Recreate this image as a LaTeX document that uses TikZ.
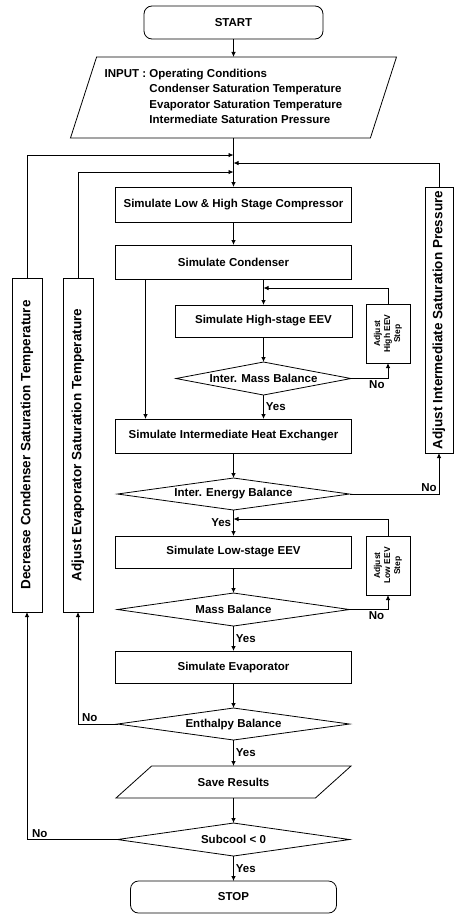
\documentclass[tikz,border=0pt]{standalone}
\usepackage{fontspec}
\setmainfont{Liberation Sans}
\usetikzlibrary{positioning, arrows.meta, shapes.geometric}
\tikzset{
  procbox/.style={
    draw, line width=0.8pt, outer sep=0pt,
    minimum width=236pt, minimum height=33pt,
    inner sep=2pt, align=center,
    font=\bfseries\fontsize{11.5}{13}\selectfont
  },
  termbox/.style={procbox, rounded corners=8pt},
  decision/.style={
    draw, line width=0.8pt, outer sep=0pt, diamond, aspect=6, inner sep=0pt,
    minimum width=232pt, minimum height=32pt,
    font=\bfseries\fontsize{11.5}{13}\selectfont
  },
  iobox/.style={
    draw, line width=0.8pt, outer sep=0pt, trapezium, trapezium stretches body,
    font=\bfseries\fontsize{11.5}{15.5}\selectfont
  },
  sidebox/.style={
    draw, line width=0.8pt, outer sep=0pt, rotate=90, inner sep=1pt,
    minimum height=30pt,
    font=\bfseries\fontsize{13.5}{15}\selectfont
  },
  stepbox/.style={
    draw, line width=0.8pt, outer sep=0pt, rotate=90, inner sep=1pt,
    minimum width=59pt, minimum height=44pt, align=center,
    font=\bfseries\fontsize{8.5}{10}\selectfont
  },
  flow/.style={-{Latex[length=5pt,width=4.5pt]}, line width=0.8pt},
  tag/.style={font=\bfseries\fontsize{11.5}{13}\selectfont, inner sep=2pt}
}

\begin{document}
\begin{tikzpicture}[x=1pt, y=1pt, node distance=25pt]
  \useasboundingbox (0,0) rectangle (455,-915);

  % main column
  \node[termbox, minimum width=179pt] (start) at (233.5,-22.5) {START};
  \node[iobox, trapezium left angle=69, trapezium right angle=111,
        minimum width=326pt, minimum height=81pt, inner sep=3pt,
        below=18pt of start] (inp)
    {\begin{tabular}{@{}l@{ }l@{}}
      INPUT : & Operating Conditions\\
              & Condenser Saturation Temperature\\
              & Evaporator Saturation Temperature\\
              & Intermediate Saturation Pressure
     \end{tabular}\hspace*{20pt}};
  \node[procbox, minimum height=35pt, below=49pt of inp] (comp) {Simulate Low \& High Stage Compressor};
  \node[procbox, minimum height=34pt, below=23pt of comp] (cond) {Simulate Condenser};
  \node[procbox, minimum width=177pt, minimum height=32pt, below=26pt of cond, xshift=30pt] (heev) {Simulate High-stage EEV};
  \node[decision, minimum width=175pt, minimum height=33pt, below=25pt of heev] (imb) {Inter. Mass Balance};
  \node[procbox, minimum height=34pt, below=24pt of imb, xshift=-30pt] (ihx) {Simulate Intermediate Heat Exchanger};
  \node[decision, below=25pt of ihx] (eb) {Inter. Energy Balance};
  \node[procbox, minimum height=32pt, below=26pt of eb] (leev) {Simulate Low-stage EEV};
  \node[decision, minimum height=33pt, below=of leev] (mb) {Mass Balance};
  \node[procbox, minimum height=32pt, below=of mb] (evap) {Simulate Evaporator};
  \node[decision, below=of evap] (enth) {Enthalpy Balance};
  \node[iobox, trapezium left angle=23, trapezium right angle=157,
        minimum width=235pt, minimum height=32pt, below=26pt of enth] (save) {Save Results};
  \node[decision, minimum height=33pt, below=of save] (sub) {Subcool < 0};
  \node[termbox, minimum width=206pt, minimum height=32pt, below=of sub] (stop) {STOP};

  % side boxes
  \node[sidebox, minimum width=334pt] (dcst) at (27,-445) {Decrease Condenser Saturation Temperature};
  \node[sidebox, minimum width=334pt] (aest) at (78,-445) {Adjust Evaporator Saturation Temperature};
  \node[sidebox, minimum width=266pt, minimum height=28pt] (aisp) at (439,-320) {Adjust Intermediate Saturation Pressure};
  \node[stepbox] (ahev) at (388,-333.5) {Adjust\\High EEV\\Step};
  \node[stepbox] (alev) at (388,-565.5) {Adjust\\Low EEV\\Step};

  % junctions
  \coordinate (j1) at ([yshift=32pt]comp.north);
  \coordinate (j2) at ([yshift=24pt]comp.north);
  \coordinate (j3) at ([yshift=15pt]comp.north);
  \coordinate (k1) at ([yshift=17pt]heev.north);
  \coordinate (k2) at ([yshift=17pt]leev.north);
  \coordinate (c1) at ([xshift=30pt]cond.south west);

  \draw[flow] (start) -- (start |- inp.north);
  \draw[flow] (inp.south -| comp.north) -- (comp.north);
  \draw[flow] (comp) -- (cond);
  \draw[flow] (cond.south -| heev.north) -- (heev);
  \draw[flow] (c1) -- (c1 |- ihx.north);
  \draw[flow] (heev) -- (imb);
  \draw[flow] (imb) -- node[tag, right] {Yes} (imb.south |- ihx.north);
  \draw[flow] (imb.east) -| node[tag, pos=0.35, below] {No} (ahev.west);
  \draw[flow] (ahev.east) |- (k1);
  \draw[flow] (ihx) -- (eb);
  \draw[flow] (eb.east) -| node[tag, pos=0.5, above left] {No} (aisp.west);
  \draw[flow] (aisp.east) |- (j2);
  \draw[flow] (eb) -- node[tag, left] {Yes} (leev);
  \draw[flow] (alev.east) |- (k2);
  \draw[flow] (leev) -- (mb);
  \draw[flow] (mb.east) -| node[tag, pos=0.35, below] {No} (alev.west);
  \draw[flow] (mb) -- node[tag, right] {Yes} (evap);
  \draw[flow] (evap) -- (enth);
  \draw[flow] (enth.west) -| node[tag, pos=0.35, above] {No} (aest.west);
  \draw[flow] (aest.east) |- (j3);
  \draw[flow] (enth.south) -- node[tag, right] {Yes} (enth.south |- save.north);
  \draw[flow] (save.south -| sub.north) -- (sub);
  \draw[flow] (sub.west) -| node[tag, pos=0.43, above] {No} (dcst.west);
  \draw[flow] (dcst.east) |- (j1);
  \draw[flow] (sub) -- node[tag, right] {Yes} (stop);
\end{tikzpicture}
\end{document}
